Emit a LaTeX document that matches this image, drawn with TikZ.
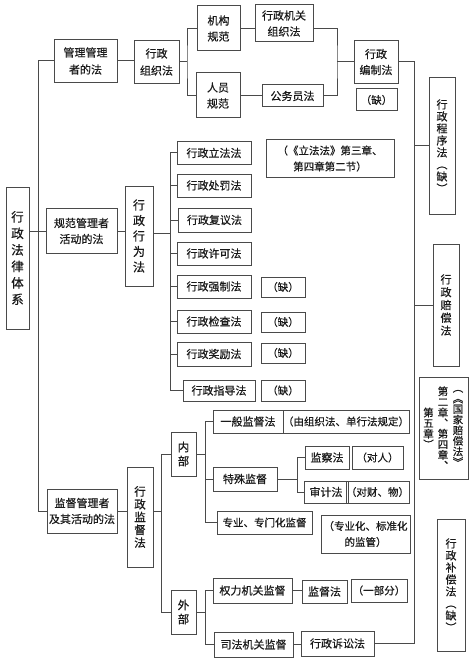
\documentclass[tikz,border=0pt]{standalone}
\usepackage{fontspec}
\setmainfont{Noto Sans CJK SC}[FakeBold=0.6]
\newcommand{\fz}[2]{\fontsize{#1}{#2}\selectfont}
\definecolor{lc}{HTML}{4A4A4A}
\definecolor{tc}{HTML}{1A1A1A}
\begin{document}
\begin{tikzpicture}[x=1pt,y=-1pt,
  box/.style={draw=lc,line width=1pt,inner sep=0pt,align=center,text=tc,font=\fz{11}{17}},
  note/.style={box,font=\fz{10.5}{16}},
  ln/.style={draw=lc,line width=1pt},
  col/.style={inner sep=0pt,align=center,text=tc}]
\useasboundingbox (0,0) rectangle (472,663);
\fill[white] (0,0) rectangle (472,663);
% root and level 1
\node[box,minimum width=23,minimum height=142,font=\fz{12.5}{16.5}] (root) at (17.5,258) {行\\政\\法\\律\\体\\系};
\node[box,minimum width=63,minimum height=43] (l1a) at (85.5,61) {管理管理\\者的法};
\node[box,minimum width=71,minimum height=45,font=\fz{11}{16}] (l1b) at (81.5,231) {规范管理者\\活动的法};
\node[box,minimum width=70,minimum height=44,font=\fz{11}{16}] (l1c) at (82,511) {监督管理者\\及其活动的法};
% level 2
\node[box,minimum width=45,minimum height=43] (l2a) at (156.5,62) {行政\\组织法};
\node[box,minimum width=28,minimum height=100,font=\fz{12}{15.5}] (l2b) at (139,236) {行\\政\\行\\为\\法};
\node[box,minimum width=26,minimum height=100,font=\fz{11.5}{12.8}] (l2c) at (140,517) {行\\政\\监\\督\\法};
% organisation law
\node[box,minimum width=43,minimum height=45,font=\fz{11}{16}] (jg) at (218.5,28.5) {机构\\规范};
\node[box,minimum width=44,minimum height=45,font=\fz{11}{16}] (ry) at (218,95.5) {人员\\规范};
\node[box,minimum width=58,minimum height=37,font=\fz{11}{16}] (jgzz) at (284,23.5) {行政机关\\组织法};
\node[box,minimum width=61,minimum height=22] (gwy) at (292.5,96) {公务员法};
\node[box,minimum width=44,minimum height=43,font=\fz{11}{16}] (bzf) at (376,62) {行政\\编制法};
\node[note,minimum width=41,minimum height=22] (q0) at (376.5,100) {（缺）};
% right column
\node[box,minimum width=26,minimum height=136,font=\fz{11}{12}] (cx) at (442,146) {行\\政\\程\\序\\法\\︵\\缺\\︶};
\node[box,minimum width=26,minimum height=122,font=\fz{11}{12.8}] (pc) at (446,305) {行\\政\\赔\\偿\\法};
\node[box,minimum width=49,minimum height=102] (gj) at (443.5,428) {};
\node[col,font=\fz{10.5}{10.6}] (gjr) at (458,428) {︵\\︽\\国\\家\\赔\\偿\\法\\︾};
\node[col,font=\fz{10.5}{10.6}] (gjm) at (443,428) {第\\二\\章\\︑\\第\\四\\章\\︑};
\node[col,font=\fz{10.5}{10.6}] (gjl) at (428.5,428) {第\\五\\章\\︶};
\node[box,minimum width=28,minimum height=132,font=\fz{11}{12}] (bc) at (451,585) {行\\政\\补\\偿\\法\\︵\\缺\\︶};
% behaviour law
\node[box,minimum width=74,minimum height=23] (lf) at (214,153) {行政立法法};
\node[box,minimum width=74,minimum height=23] (cf) at (214,185.5) {行政处罚法};
\node[box,minimum width=73,minimum height=24] (fy) at (214.5,220) {行政复议法};
\node[box,minimum width=74,minimum height=23] (xk) at (214,253.5) {行政许可法};
\node[box,minimum width=74,minimum height=23] (qz) at (214,286.5) {行政强制法};
\node[box,minimum width=74,minimum height=23] (jc) at (214,321.5) {行政检查法};
\node[box,minimum width=74,minimum height=24] (jl) at (214,354) {行政奖励法};
\node[box,minimum width=72,minimum height=21] (zd) at (219,390.5) {行政指导法};
\node[note,minimum width=128,minimum height=37] (lff) at (330,158.5) {（《立法法》第三章、\\第四章第二节）};
\node[note,minimum width=44,minimum height=20] (q1) at (283,287) {（缺）};
\node[note,minimum width=44,minimum height=20] (q2) at (283,322) {（缺）};
\node[note,minimum width=44,minimum height=20] (q3) at (283,353) {（缺）};
\node[note,minimum width=44,minimum height=21] (q4) at (283,390.5) {（缺）};
% supervision law
\node[box,minimum width=25,minimum height=44,font=\fz{11.5}{14}] (nb) at (183.5,454) {内\\部};
\node[box,minimum width=25,minimum height=44,font=\fz{11.5}{14}] (wb) at (183.5,612) {外\\部};
\node[box,minimum width=70,minimum height=23] (yb) at (248,421.5) {一般监督法};
\node[box,minimum width=64,minimum height=24] (ts) at (245,479) {特殊监督};
\node[box,minimum width=95,minimum height=23,font=\fz{10.5}{16}] (zy) at (264.5,522.5) {专业、专门化监督};
\node[note,minimum width=118,minimum height=23] (ybn) at (346,421.5) {（由组织法、单行法规定）};
\node[box,minimum width=44,minimum height=23] (jcf) at (327,457.5) {监察法};
\node[note,minimum width=51,minimum height=23] (dr) at (377.5,457.5) {（对人）};
\node[box,minimum width=44,minimum height=22] (sjf) at (326,492) {审计法};
\node[note,minimum width=55,minimum height=22] (dcw) at (377.5,492) {（对财、物）};
\node[note,minimum width=89,minimum height=38] (zbh) at (365.5,534) {（专业化、标准化\\的监管）};
\node[box,minimum width=79,minimum height=25] (ql) at (252.5,590.5) {权力机关监督};
\node[box,minimum width=79,minimum height=25] (sf) at (253.5,644.5) {司法机关监督};
\node[box,minimum width=45,minimum height=23] (jdf) at (324.5,591.5) {监督法};
\node[note,minimum width=56,minimum height=23] (ybf) at (379,590.5) {（一部分）};
\node[box,minimum width=73,minimum height=25] (ssf) at (337.5,643.5) {行政诉讼法};
% coordinates
\coordinate (tr) at (38,0);
\coordinate (bo) at (187,62);
\coordinate (bb) at (337,62);
\coordinate (rt) at (414,62);
\coordinate (bx) at (170,233);
\coordinate (bs) at (161,511);
\coordinate (bn) at (205,455);
\coordinate (bt) at (297,479);
\coordinate (bw) at (205,614);
% trunk
\draw[ln] (root.east |- l1b.west) -- (l1b.west);
\draw[ln] (l1a.west) -- (l1a.west -| tr) -- (l1c.west -| tr) -- (l1c.west);
\draw[ln] (l1a.east) -- (l1a.east -| l2a.west);
\draw[ln] (l1b.east) -- (l1b.east -| l2b.west);
\draw[ln] (l1c.east) -- (l1c.east -| l2c.west);
% organisation
\draw[ln] (l2a.east |- bo) -- (bo);
\draw[ln] (jg.west) -| (bo) |- (ry.west);
\draw[ln] (jg.east) -- (jg.east -| jgzz.west);
\draw[ln] (ry.east) -- (ry.east -| gwy.west);
\draw[ln] (jgzz.east |- jg.east) -| (bb) |- (gwy.east);
\draw[ln] (bb) -- (bb -| bzf.west);
% right trunk
\draw[ln] (bzf.east) -- (bzf.east -| rt) -- (ssf.east -| rt) -- (ssf.east);
\draw[ln] (cx.west -| rt) -- (cx.west);
\draw[ln] (pc.west -| rt) -- (pc.west);
% behaviour
\draw[ln] (l2b.east |- bx) -- (bx);
\draw[ln] (lf.west) -- (lf.west -| bx) -- (zd.west -| bx) -- (zd.west);
\foreach \n in {cf,fy,xk,qz,jc,jl} \draw[ln] (\n.west -| bx) -- (\n.west);
% supervision
\draw[ln] (l2c.east |- bs) -- (bs);
\draw[ln] (nb.west) -- (nb.west -| bs) -- (wb.west -| bs) -- (wb.west);
\draw[ln] (nb.east) -- (nb.east -| bn);
\draw[ln] (yb.west) -- (yb.west -| bn) -- (zy.west -| bn) -- (zy.west);
\draw[ln] (ts.west -| bn) -- (ts.west);
\draw[ln] (ts.east) -- (ts.east -| bt);
\draw[ln] (jcf.west) -- (jcf.west -| bt) -- (sjf.west -| bt) -- (sjf.west);
\draw[ln] (wb.east) -- (wb.east -| bw);
\draw[ln] (ql.west) -- (ql.west -| bw) -- (sf.west -| bw) -- (sf.west);
\draw[ln] (ql.east) -- (ql.east -| jdf.west);
\draw[ln] (sf.east) -- (sf.east -| ssf.west);
\end{tikzpicture}
\end{document}
